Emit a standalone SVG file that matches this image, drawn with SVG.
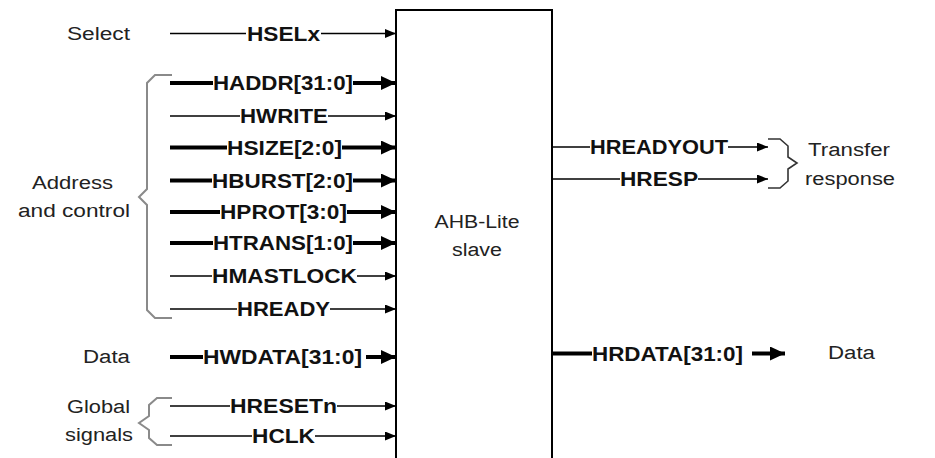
<svg xmlns="http://www.w3.org/2000/svg" width="935" height="458" viewBox="0 0 935 458">
<style>
.sig{font-family:"Liberation Sans",Arial,sans-serif;font-weight:bold;font-size:20px;fill:#111;text-anchor:middle}
.lbl{font-family:"Liberation Sans",Arial,sans-serif;font-size:18px;fill:#222;text-anchor:middle}
.thin{stroke:#000;stroke-width:1.5;fill:none}
.thick{stroke:#000;stroke-width:4;fill:none}
.brace{stroke:#8a8a8a;stroke-width:2;fill:none}
.brace2{stroke:#333;stroke-width:1.6;fill:none}
.box{stroke:#000;stroke-width:2;fill:#fff}
</style>
<defs>
<marker id="at" markerUnits="userSpaceOnUse" viewBox="0 0 11 9" refX="11" refY="4.5" markerWidth="11" markerHeight="9" orient="auto"><path d="M0,0 L11,4.5 L0,9 Z" fill="#000"/></marker>
<marker id="ak" markerUnits="userSpaceOnUse" viewBox="0 0 15 14" refX="15" refY="7" markerWidth="15" markerHeight="14" orient="auto"><path d="M0,0 L15,7 L0,14 Z" fill="#000"/></marker>
</defs>
<rect width="935" height="458" fill="#fff"/>

<g id="slave">
<path class="box" d="M396,470 L396,10 L552,10 L552,470"/>
<text class="lbl" x="477" y="228" textLength="85" lengthAdjust="spacingAndGlyphs">AHB-Lite</text>
<text class="lbl" x="477" y="256" textLength="50" lengthAdjust="spacingAndGlyphs">slave</text>
</g>

<g id="labels">
<text class="lbl" x="98.5" y="40" textLength="63" lengthAdjust="spacingAndGlyphs">Select</text>
<text class="lbl" x="72.5" y="189" textLength="81" lengthAdjust="spacingAndGlyphs">Address</text>
<text class="lbl" x="74" y="217" textLength="112" lengthAdjust="spacingAndGlyphs">and control</text>
<text class="lbl" x="106.5" y="363" textLength="47" lengthAdjust="spacingAndGlyphs">Data</text>
<text class="lbl" x="98.5" y="413" textLength="63" lengthAdjust="spacingAndGlyphs">Global</text>
<text class="lbl" x="99" y="441" textLength="68" lengthAdjust="spacingAndGlyphs">signals</text>
<text class="lbl" x="849" y="156" textLength="82" lengthAdjust="spacingAndGlyphs">Transfer</text>
<text class="lbl" x="850" y="185" textLength="90" lengthAdjust="spacingAndGlyphs">response</text>
<text class="lbl" x="851.5" y="359" textLength="47" lengthAdjust="spacingAndGlyphs">Data</text>
</g>

<g id="braces">
<path class="brace" d="M172,75 L155,75 L147,83 L147,189 L139,197 L147,205 L147,310 L155,318 L172,318"/>
<path class="brace" d="M172,398 L157,398 L149,405 L149,416 L139,423 L149,430 L149,438 L157,445 L172,445"/>
<path class="brace2" d="M768,139 L780,139 L788,146 L788,157 L797,163 L788,169 L788,181 L780,188 L768,188"/>
</g>

<g id="connectors">
<line class="thin" x1="170" y1="33.5" x2="246" y2="33.5"/><line class="thin" x1="321" y1="33.5" x2="396" y2="33.5" marker-end="url(#at)"/>
<line class="thick" x1="170" y1="83" x2="213" y2="83"/><line class="thick" x1="353" y1="83" x2="396" y2="83" marker-end="url(#ak)"/>
<line class="thin" x1="170" y1="116" x2="240" y2="116"/><line class="thin" x1="328" y1="116" x2="396" y2="116" marker-end="url(#at)"/>
<line class="thick" x1="170" y1="147.5" x2="227" y2="147.5"/><line class="thick" x1="342" y1="147.5" x2="396" y2="147.5" marker-end="url(#ak)"/>
<line class="thick" x1="170" y1="180.5" x2="212" y2="180.5"/><line class="thick" x1="353" y1="180.5" x2="396" y2="180.5" marker-end="url(#ak)"/>
<line class="thick" x1="170" y1="212" x2="220" y2="212"/><line class="thick" x1="347" y1="212" x2="396" y2="212" marker-end="url(#ak)"/>
<line class="thick" x1="170" y1="243" x2="213" y2="243"/><line class="thick" x1="353" y1="243" x2="396" y2="243" marker-end="url(#ak)"/>
<line class="thin" x1="170" y1="276" x2="212" y2="276"/><line class="thin" x1="357" y1="276" x2="396" y2="276" marker-end="url(#at)"/>
<line class="thin" x1="170" y1="309" x2="237" y2="309"/><line class="thin" x1="330" y1="309" x2="396" y2="309" marker-end="url(#at)"/>
<line class="thick" x1="170" y1="357" x2="203" y2="357"/><line class="thick" x1="366" y1="357" x2="396" y2="357" marker-end="url(#ak)"/>
<line class="thin" x1="170" y1="406" x2="230" y2="406"/><line class="thin" x1="337" y1="406" x2="396" y2="406" marker-end="url(#at)"/>
<line class="thin" x1="170" y1="436" x2="252" y2="436"/><line class="thin" x1="315" y1="436" x2="396" y2="436" marker-end="url(#at)"/>
<line class="thin" x1="552" y1="147" x2="590" y2="147"/><line class="thin" x1="728" y1="147" x2="768" y2="147" marker-end="url(#at)"/>
<line class="thin" x1="552" y1="179" x2="620" y2="179"/><line class="thin" x1="698" y1="179" x2="768" y2="179" marker-end="url(#at)"/>
<line class="thick" x1="552" y1="353.5" x2="592" y2="353.5"/><line class="thick" x1="752" y1="353.5" x2="785" y2="353.5" marker-end="url(#ak)"/>
</g>

<g id="signals">
<text class="sig" x="283.5" y="41" textLength="73" lengthAdjust="spacingAndGlyphs">HSELx</text>
<text class="sig" x="283" y="90" textLength="140" lengthAdjust="spacingAndGlyphs">HADDR[31:0]</text>
<text class="sig" x="284" y="123" textLength="88" lengthAdjust="spacingAndGlyphs">HWRITE</text>
<text class="sig" x="284.5" y="155" textLength="115" lengthAdjust="spacingAndGlyphs">HSIZE[2:0]</text>
<text class="sig" x="282.5" y="188" textLength="141" lengthAdjust="spacingAndGlyphs">HBURST[2:0]</text>
<text class="sig" x="283.5" y="219" textLength="127" lengthAdjust="spacingAndGlyphs">HPROT[3:0]</text>
<text class="sig" x="283" y="250" textLength="140" lengthAdjust="spacingAndGlyphs">HTRANS[1:0]</text>
<text class="sig" x="284.5" y="283" textLength="145" lengthAdjust="spacingAndGlyphs">HMASTLOCK</text>
<text class="sig" x="283.5" y="316" textLength="93" lengthAdjust="spacingAndGlyphs">HREADY</text>
<text class="sig" x="282.5" y="364" textLength="159" lengthAdjust="spacingAndGlyphs">HWDATA[31:0]</text>
<text class="sig" x="283.5" y="413" textLength="107" lengthAdjust="spacingAndGlyphs">HRESETn</text>
<text class="sig" x="283.5" y="443" textLength="63" lengthAdjust="spacingAndGlyphs">HCLK</text>
<text class="sig" x="659" y="154" textLength="138" lengthAdjust="spacingAndGlyphs">HREADYOUT</text>
<text class="sig" x="659" y="186" textLength="78" lengthAdjust="spacingAndGlyphs">HRESP</text>
<text class="sig" x="667.5" y="361" textLength="151" lengthAdjust="spacingAndGlyphs">HRDATA[31:0]</text>
</g>
</svg>
